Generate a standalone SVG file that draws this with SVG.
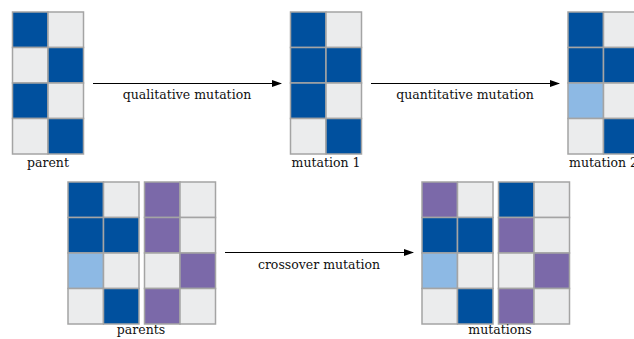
<svg xmlns="http://www.w3.org/2000/svg" xmlns:xlink="http://www.w3.org/1999/xlink" width="634" height="339" viewBox="0 0 634 339">
<defs>
<style>
rect{stroke:#a4a4a4;stroke-width:1.5;width:35.5px;height:35.5px}
.b{fill:#00509e}
.g{fill:#ebeced}
.l{fill:#8db9e4}
.p{fill:#7b69a9}
text{font-family:"DejaVu Serif",serif;font-size:12.5px;fill:#111;text-anchor:middle}
.c{stroke:#000;stroke-width:1;fill:none}
</style>
<marker id="ah" markerWidth="10" markerHeight="8" refX="9" refY="4" orient="auto" markerUnits="userSpaceOnUse">
<path d="M0,0.5 L10,4 L0,7.5 Z" fill="#000"/>
</marker>
</defs>
<rect x="0" y="0" width="634" height="339" style="fill:#fff;stroke:none;width:634px;height:339px"/>
<g id="parent">
<rect class="b" x="12.5" y="12"/><rect class="g" x="48" y="12"/>
<rect class="g" x="12.5" y="47.5"/><rect class="b" x="48" y="47.5"/>
<rect class="b" x="12.5" y="83"/><rect class="g" x="48" y="83"/>
<rect class="g" x="12.5" y="118.5"/><rect class="b" x="48" y="118.5"/>
<text x="48" y="167">parent</text>
</g>
<g id="mutation1">
<rect class="b" x="290.5" y="12"/><rect class="g" x="326" y="12"/>
<rect class="b" x="290.5" y="47.5"/><rect class="b" x="326" y="47.5"/>
<rect class="b" x="290.5" y="83"/><rect class="g" x="326" y="83"/>
<rect class="g" x="290.5" y="118.5"/><rect class="b" x="326" y="118.5"/>
<text x="326" y="167">mutation 1</text>
</g>
<g id="mutation2">
<rect class="b" x="568" y="12"/><rect class="g" x="603.5" y="12"/>
<rect class="b" x="568" y="47.5"/><rect class="b" x="603.5" y="47.5"/>
<rect class="l" x="568" y="83"/><rect class="g" x="603.5" y="83"/>
<rect class="g" x="568" y="118.5"/><rect class="b" x="603.5" y="118.5"/>
<text x="603.5" y="167">mutation 2</text>
</g>
<g id="parents">
<rect class="b" x="68" y="182"/><rect class="g" x="103.5" y="182"/>
<rect class="b" x="68" y="217.5"/><rect class="b" x="103.5" y="217.5"/>
<rect class="l" x="68" y="253"/><rect class="g" x="103.5" y="253"/>
<rect class="g" x="68" y="288.5"/><rect class="b" x="103.5" y="288.5"/>
<rect class="p" x="144.5" y="182"/><rect class="g" x="180" y="182"/>
<rect class="p" x="144.5" y="217.5"/><rect class="g" x="180" y="217.5"/>
<rect class="g" x="144.5" y="253"/><rect class="p" x="180" y="253"/>
<rect class="p" x="144.5" y="288.5"/><rect class="g" x="180" y="288.5"/>
<text x="141" y="334">parents</text>
</g>
<g id="mutations">
<rect class="p" x="422" y="182"/><rect class="g" x="457.5" y="182"/>
<rect class="b" x="422" y="217.5"/><rect class="b" x="457.5" y="217.5"/>
<rect class="l" x="422" y="253"/><rect class="g" x="457.5" y="253"/>
<rect class="g" x="422" y="288.5"/><rect class="b" x="457.5" y="288.5"/>
<rect class="b" x="498.5" y="182"/><rect class="g" x="534" y="182"/>
<rect class="p" x="498.5" y="217.5"/><rect class="g" x="534" y="217.5"/>
<rect class="g" x="498.5" y="253"/><rect class="p" x="534" y="253"/>
<rect class="p" x="498.5" y="288.5"/><rect class="g" x="534" y="288.5"/>
<text x="500" y="334">mutations</text>
</g>
<g id="connectors">
<line class="c" x1="93" y1="83.5" x2="281" y2="83.5" marker-end="url(#ah)"/>
<text x="187" y="99">qualitative mutation</text>
<line class="c" x1="371" y1="83.5" x2="559" y2="83.5" marker-end="url(#ah)"/>
<text x="465" y="99">quantitative mutation</text>
<line class="c" x1="225" y1="252.5" x2="413" y2="252.5" marker-end="url(#ah)"/>
<text x="319" y="269">crossover mutation</text>
</g>
</svg>
